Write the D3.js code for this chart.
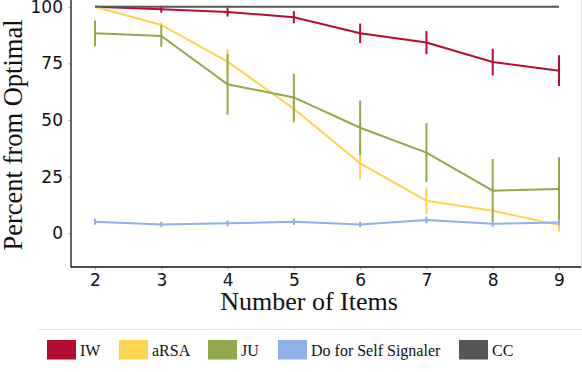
<!DOCTYPE html>
<html>
<head>
<meta charset="utf-8">
<script src="https://cdn.jsdelivr.net/npm/d3@7"></script>
<style>
  body { margin: 0; background: #fff; }
  svg { display: block; }
</style>
</head>
<body>
<div class="chart"></div>
<script>
// data
const items = [2, 3, 4, 5, 6, 7, 8, 9]
const seriesNames = ['IW', 'aRSA', 'JU', 'Do for Self Signaler', 'CC']
const seriesColors = ['#b30d2f', '#ffd451', '#93a84a', '#90b0e9', '#555555']

const iwValues = [100, 98.9, 97.7, 95.4, 88.3, 84.2, 75.6, 71.8]
const iwErrors = [0, 1.5, 2, 2.7, 4.3, 5.1, 5.9, 6.8]
const arsaValues = [100, 92, 75.8, 55, 30.9, 14.4, 10, 3.7]
const arsaErrors = [0, 1, 5.5, 6.5, 7, 6, 1, 3]
const juValues = [88.3, 87.1, 65.8, 60, 46.6, 35.6, 18.8, 19.6]
const juErrors = [5.7, 4.7, 13.4, 10.5, 12, 13, 14, 14]
const selfValues = [5.1, 3.9, 4.4, 5.1, 3.9, 5.9, 4.2, 4.8]
const selfErrors = [1.3, 1.2, 1.3, 1.4, 1.2, 1.5, 1.3, 1.4]
const ccValues = [100, 100, 100, 100, 100, 100, 100, 100]
const ccErrors = [0, 0, 0, 0, 0, 0, 0, 0]

const yTicks = [0, 25, 50, 75, 100]

const series = [
    { name: seriesNames[0], values: iwValues, errors: iwErrors },
    { name: seriesNames[1], values: arsaValues, errors: arsaErrors },
    { name: seriesNames[2], values: juValues, errors: juErrors },
    { name: seriesNames[3], values: selfValues, errors: selfErrors },
    { name: seriesNames[4], values: ccValues, errors: ccErrors },
].map((s, i) => ({
    ...s,
    color: seriesColors[i],
    points: items.map((x, j) => ({ x, y: s.values[j], e: s.errors[j] }))
}))

const width = 582
const height = 372

const svg = d3.select('.chart')
    .append('svg')
    .attr('width', width)
    .attr('height', height)

// Scales.
const xScale = d3.scaleLinear()
    .domain([2, 9])
    .range([95, 559])

const yScale = d3.scaleLinear()
    .domain([-15, 103])
    .range([267.3, 0])

// Axes.
const xAxis = svg.append('g')
    .attr('transform', 'translate(0, 267)')
    .call(d3.axisBottom(xScale).tickValues(items).tickSize(3).tickPadding(4).tickFormat(d3.format('d')))

xAxis.select('.domain').remove()
xAxis.append('line')
    .attr('x1', 71).attr('x2', 582)
    .attr('stroke', '#111').attr('stroke-width', 1.3)

const yAxis = svg.append('g')
    .attr('transform', 'translate(71, 0)')
    .call(d3.axisLeft(yScale).tickValues(yTicks).tickSize(3).tickPadding(5))

yAxis.select('.domain').remove()
yAxis.append('line')
    .attr('y1', 0).attr('y2', 267.5)
    .attr('stroke', '#111').attr('stroke-width', 1.3)

svg.selectAll('.tick line').attr('stroke', '#bbb')
svg.selectAll('.tick text')
    .attr('fill', '#111')
    .style('font-family', 'DejaVu Sans')
    .style('font-size', '17px')

// faint border on the right
svg.append('line')
    .attr('x1', 581.5).attr('x2', 581.5)
    .attr('y1', 0).attr('y2', 269)
    .attr('stroke', '#e4e4e4')

// Axis labels.
svg.append('text')
    .attr('transform', 'translate(22, 135) rotate(-90)')
    .attr('text-anchor', 'middle')
    .style('font-family', 'Liberation Serif')
    .style('font-size', '26.5px')
    .attr('fill', '#111')
    .text('Percent from Optimal')

svg.append('text')
    .attr('x', 309)
    .attr('y', 310)
    .attr('text-anchor', 'middle')
    .style('font-family', 'Liberation Serif')
    .style('font-size', '26px')
    .attr('fill', '#111')
    .text('Number of Items')

// Draw lines and error bars.
const line = d3.line()
    .x(d => xScale(d.x))
    .y(d => yScale(d.y))

const groups = svg.selectAll('.series')
    .data(series)
    .enter()
    .append('g')
    .attr('class', 'series')

groups.selectAll('.err')
    .data(d => d.points.filter(p => p.e > 0).map(p => ({ ...p, color: d.color })))
    .enter()
    .append('line')
    .attr('class', 'err')
    .attr('x1', d => xScale(d.x))
    .attr('x2', d => xScale(d.x))
    .attr('y1', d => yScale(d.y - d.e))
    .attr('y2', d => yScale(d.y + d.e))
    .attr('stroke', d => d.color)
    .attr('stroke-width', 2)

groups.append('path')
    .attr('d', d => line(d.points))
    .attr('fill', 'none')
    .attr('stroke', d => d.color)
    .attr('stroke-width', 2)

// Legend.
svg.append('line')
    .attr('x1', 38).attr('x2', 582)
    .attr('y1', 329.5).attr('y2', 329.5)
    .attr('stroke', '#e8e8e8')

const legendX = [47, 119, 208, 278, 459]

const legend = svg.selectAll('.legend')
    .data(series)
    .enter()
    .append('g')
    .attr('class', 'legend')
    .attr('transform', (d, i) => `translate(${legendX[i]}, 340)`)

legend.append('rect')
    .attr('width', 29)
    .attr('height', 19.5)
    .attr('fill', d => d.color)

legend.append('text')
    .attr('x', 33)
    .attr('y', 16)
    .style('font-family', 'Liberation Serif')
    .style('font-size', '16px')
    .attr('fill', '#111')
    .text(d => d.name)
</script>
</body>
</html>
